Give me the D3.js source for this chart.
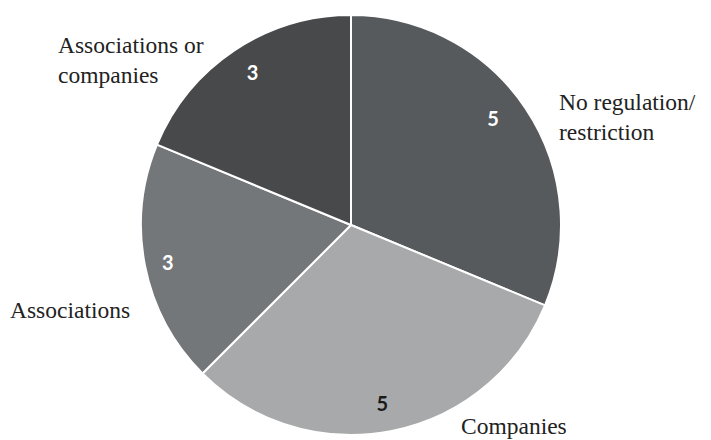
<!DOCTYPE html>
<html>
<head>
<meta charset="utf-8">
<script src="https://cdn.jsdelivr.net/npm/d3@7/dist/d3.min.js"></script>
<style>
  html, body { margin: 0; padding: 0; background: #fff; }
  svg { display: block; }
</style>
</head>
<body>
<svg id="chart" width="711" height="440"></svg>
<script>
// Slice categories, counts and fills (clockwise from 12 o'clock)
const categories = ["No regulation/restriction", "Companies", "Associations", "Associations or companies"];
const counts = [5, 5, 3, 3];
const fills = ["#565a5c", "#a7a9aa", "#74777a", "#48494b"];
const numberColors = ["#ffffff", "#1a1a1a", "#ffffff", "#ffffff"];

// Outside label lines for each slice
const labelLines = [
  ["No regulation/", "restriction"],
  ["Companies"],
  ["Associations"],
  ["Associations or", "companies"]
];
const labelAnchors = [
  { x: 559, y: 110 },
  { x: 461, y: 434 },
  { x: 10, y: 318 },
  { x: 58, y: 53 }
];
// Small nudges of the count text away from the slice centroid
const countNudges = [[-8, -7], [-4, 1], [-6, 2], [2, -3]];

const width = 711, height = 440;
const cx = 351, cy = 225, R = 210;

const svg = d3.select("#chart");
const g = svg.append("g").attr("transform", `translate(${cx},${cy})`);

const data = categories.map((c, i) => ({ name: c, value: counts[i], i }));

const pie = d3.pie().value(d => d.value).sort(null);
const arcs = pie(data);

const arc = d3.arc().innerRadius(0).outerRadius(R);
const numArc = d3.arc().innerRadius(R * 0.86).outerRadius(R * 0.86);

g.selectAll("path.slice")
  .data(arcs)
  .join("path")
  .attr("class", "slice")
  .attr("d", arc)
  .attr("fill", d => fills[d.data.i])
  .attr("stroke", "#ffffff")
  .attr("stroke-width", 2)
  .attr("stroke-linejoin", "round");

// Counts inside each slice
g.selectAll("text.count")
  .data(arcs)
  .join("text")
  .attr("class", "count")
  .attr("transform", d => {
    const [x, y] = numArc.centroid(d);
    const [nx, ny] = countNudges[d.data.i];
    return `translate(${x + nx},${y + ny})`;
  })
  .attr("text-anchor", "middle")
  .attr("dominant-baseline", "central")
  .attr("font-family", "Lato, 'DejaVu Sans', sans-serif")
  .attr("font-weight", "bold")
  .attr("font-size", 20)
  .attr("fill", d => numberColors[d.data.i])
  .text(d => d.data.value);

// Category labels outside the pie
labelLines.forEach((lines, i) => {
  const t = svg.append("text")
    .attr("x", labelAnchors[i].x)
    .attr("y", labelAnchors[i].y)
    .attr("font-family", "'Liberation Serif', 'DejaVu Serif', serif")
    .attr("font-size", 23.5)
    .attr("fill", "#222222");
  lines.forEach((line, k) => {
    t.append("tspan")
      .attr("x", labelAnchors[i].x)
      .attr("dy", k === 0 ? 0 : 30)
      .text(line);
  });
});
</script>
</body>
</html>
